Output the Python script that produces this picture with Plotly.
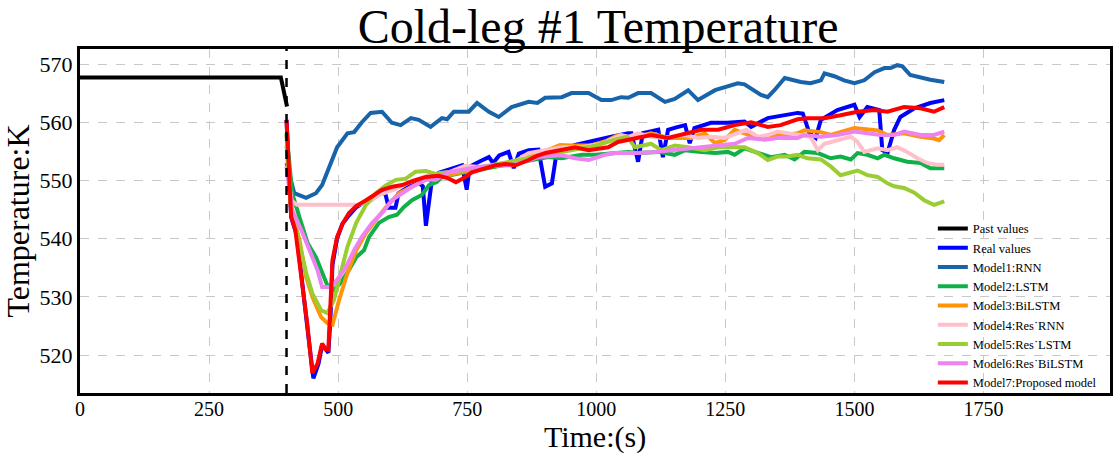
import plotly.graph_objects as go

# ---------------- data ----------------
t_past = [0, 100, 200, 300, 389, 401]
y_past = [567.7, 567.7, 567.7, 567.7, 567.7, 562.7]

t_real = [400, 409, 420, 430, 440, 452, 462, 469, 475, 481, 485, 489, 498, 508, 521, 535, 554, 570, 585, 592,
          598, 611, 617, 635, 656, 664, 670, 677, 682, 695, 720, 740, 749, 755, 775, 792, 800, 812, 830, 840,
          850, 869, 888, 901, 914, 923, 940, 959, 980, 998, 1029, 1062, 1068, 1081, 1090, 1105, 1120, 1129, 1139, 1155,
          1172, 1181, 1190, 1222, 1254, 1287, 1300, 1332, 1365, 1390, 1400, 1413, 1425, 1435, 1467, 1500, 1510, 1525, 1548, 1554,
          1564, 1577, 1589, 1616, 1647, 1674]
y_real = [560.4, 543.7, 540.5, 532.0, 525.0, 516.0, 518.5, 521.8, 521.0, 520.4, 526.0, 535.5, 540.0, 542.5, 544.0, 545.4, 546.4, 547.3, 548.0, 547.5,
          545.3, 545.3, 547.8, 548.8, 549.6, 549.0, 542.2, 547.0, 550.3, 551.3, 552.0, 552.6, 548.4, 552.4, 553.3, 554.0, 553.0, 554.3, 554.9, 552.1,
          554.6, 555.2, 555.3, 548.9, 549.5, 554.7, 555.5, 556.1, 556.5, 556.9, 557.5, 558.1, 558.1, 553.2, 558.1, 558.4, 558.7, 554.0, 558.7, 559.1,
          559.5, 556.4, 559.0, 559.9, 559.9, 560.1, 559.2, 560.7, 561.2, 561.6, 561.5, 558.1, 557.3, 560.4, 562.1, 563.0, 560.9, 562.6, 562.1, 555.2,
          554.7, 558.7, 560.9, 562.4, 563.3, 563.8]

t_m1 = [400, 415, 438, 457, 469, 483, 498, 518, 531, 546, 563, 585, 604, 621, 641, 656, 679, 701, 711, 724,
        753, 769, 792, 811, 836, 869, 886, 901, 933, 952, 985, 1010, 1029, 1048, 1062, 1081, 1106, 1133, 1152, 1178,
        1197, 1230, 1249, 1274, 1287, 1319, 1332, 1345, 1365, 1377, 1396, 1415, 1435, 1442, 1461, 1480, 1500, 1519, 1539, 1558,
        1570, 1583, 1593, 1608, 1628, 1647, 1674]
y_m1 = [553.0, 547.8, 547.0, 547.8, 549.2, 552.3, 555.7, 558.1, 558.3, 560.0, 561.6, 561.8, 559.9, 559.5, 560.7, 560.4, 559.2, 560.7, 560.5, 561.8,
        561.8, 563.3, 561.8, 560.9, 562.6, 563.5, 563.3, 564.2, 564.3, 565.0, 565.0, 563.8, 563.8, 564.3, 564.2, 565.0, 565.0, 563.5, 564.0, 565.5,
        563.8, 565.5, 566.0, 566.7, 566.5, 564.7, 564.3, 565.5, 567.6, 567.3, 566.9, 566.7, 567.2, 568.4, 567.9, 567.2, 566.7, 567.2, 568.6, 569.3,
        569.3, 569.8, 569.6, 568.1, 567.6, 567.3, 566.9]

t_m2 = [400, 411, 425, 441, 457, 469, 479, 492, 505, 521, 535, 550, 560, 579, 598, 614, 627, 643, 662, 676,
        691, 701, 720, 740, 770, 800, 836, 870, 907, 933, 972, 998, 1023, 1042, 1062, 1081, 1120, 1152, 1172, 1203,
        1230, 1255, 1268, 1287, 1313, 1338, 1365, 1384, 1403, 1429, 1454, 1473, 1493, 1506, 1525, 1545, 1558, 1577, 1602, 1628,
        1647, 1674]
y_m2 = [558.1, 547.8, 543.7, 539.2, 536.8, 534.1, 532.0, 531.2, 532.4, 534.6, 536.8, 538.0, 540.3, 542.7, 543.7, 544.1, 545.4, 546.6, 547.5, 549.2,
        549.7, 550.6, 551.0, 551.3, 551.8, 552.3, 552.9, 553.4, 554.0, 553.8, 554.4, 554.4, 554.6, 554.9, 554.9, 554.7, 554.9, 554.4, 555.2, 554.9,
        554.7, 554.9, 554.4, 555.5, 554.7, 554.0, 554.4, 553.6, 554.9, 554.7, 553.8, 554.1, 553.6, 554.7, 554.4, 553.8, 554.4, 553.8, 553.2, 553.0,
        552.1, 552.1]

t_m3 = [400, 409, 425, 438, 450, 467, 479, 489, 502, 518, 535, 554, 573, 593, 618, 643, 670, 695, 730, 766,
        800, 840, 880, 930, 950, 990, 1020, 1042, 1068, 1106, 1139, 1184, 1210, 1230, 1249, 1268, 1287, 1313, 1338, 1365,
        1390, 1403, 1435, 1454, 1500, 1545, 1564, 1596, 1628, 1654, 1664, 1674]
y_m3 = [557.8, 544.9, 539.8, 533.4, 530.0, 526.5, 525.5, 525.2, 529.5, 534.1, 538.0, 541.0, 543.2, 545.4, 547.8, 548.9, 550.1, 550.6, 551.2, 551.8,
        552.5, 553.2, 554.3, 556.1, 556.0, 556.0, 556.8, 557.8, 557.3, 558.1, 557.3, 557.3, 558.1, 556.4, 557.0, 558.7, 558.1, 557.3, 557.8, 557.8,
        558.1, 558.6, 558.3, 557.8, 559.0, 558.6, 557.8, 558.1, 557.5, 557.2, 556.9, 557.8]

t_m4 = [400, 410, 420, 460, 500, 540, 560, 580, 610, 640, 676, 714, 746, 772, 811, 843, 869, 901, 933, 972,
        1010, 1048, 1062, 1081, 1106, 1126, 1146, 1172, 1197, 1222, 1249, 1274, 1291, 1313, 1332, 1351, 1377, 1396, 1415, 1429,
        1442, 1467, 1493, 1506, 1519, 1545, 1564, 1583, 1602, 1622, 1641, 1660, 1674]
y_m4 = [552.5, 546.5, 545.8, 545.8, 545.8, 545.8, 546.3, 547.5, 548.5, 549.8, 550.9, 551.4, 552.5, 552.3, 552.8, 553.3, 554.7, 555.2, 555.7, 555.7,
        556.3, 557.8, 557.5, 558.1, 557.5, 557.3, 557.5, 557.8, 557.3, 557.5, 557.3, 558.1, 558.7, 557.5, 557.8, 558.4, 558.1, 557.8, 557.5, 555.2,
        556.3, 556.9, 557.5, 556.6, 554.9, 555.5, 555.2, 555.7, 554.9, 553.8, 553.0, 552.7, 552.7]

t_m5 = [400, 409, 425, 438, 450, 467, 479, 492, 505, 518, 535, 554, 573, 593, 612, 631, 650, 670, 689, 701,
        730, 760, 800, 840, 880, 920, 960, 1000, 1036, 1060, 1075, 1106, 1126, 1152, 1178, 1210, 1236, 1262, 1287, 1313,
        1332, 1351, 1371, 1390, 1409, 1435, 1454, 1473, 1493, 1506, 1525, 1545, 1564, 1577, 1596, 1616, 1635, 1654, 1674]
y_m5 = [556.0, 545.0, 539.2, 534.1, 530.6, 527.7, 527.2, 529.5, 534.1, 538.6, 542.7, 545.8, 547.8, 549.2, 550.1, 550.3, 551.5, 551.6, 551.1, 551.3,
        551.5, 552.0, 552.7, 553.3, 554.0, 554.6, 555.2, 556.0, 557.0, 557.5, 555.7, 556.3, 555.2, 556.0, 555.7, 555.2, 555.7, 555.7, 555.7, 554.7,
        553.5, 554.1, 554.1, 554.4, 553.8, 553.6, 552.4, 550.9, 551.4, 551.7, 550.9, 550.6, 549.5, 549.0, 548.7, 547.9, 546.6, 545.8, 546.4]

t_m6 = [400, 411, 431, 447, 460, 469, 486, 498, 515, 531, 546, 566, 585, 604, 624, 643, 670, 689, 714, 745,
        772, 805, 836, 860, 888, 933, 959, 985, 1017, 1036, 1062, 1081, 1113, 1146, 1178, 1210, 1236, 1268, 1294, 1326,
        1351, 1390, 1403, 1435, 1467, 1500, 1525, 1551, 1577, 1596, 1628, 1654, 1674]
y_m6 = [552.3, 544.9, 541.0, 537.5, 534.6, 531.7, 531.7, 532.9, 535.1, 538.0, 540.3, 542.7, 544.4, 546.6, 547.8, 548.9, 550.1, 550.1, 551.4, 551.8,
        552.3, 552.5, 552.6, 553.2, 554.0, 554.3, 553.8, 553.5, 554.4, 554.7, 554.7, 554.7, 554.9, 555.2, 555.5, 555.7, 556.0, 556.3, 557.3, 557.0,
        557.3, 557.3, 557.8, 557.5, 557.8, 558.4, 558.1, 557.8, 557.8, 558.4, 557.8, 557.8, 558.4]

t_m7 = [400, 409, 417, 430, 440, 450, 460, 469, 475, 481, 489, 498, 510, 521, 535, 554, 570, 585, 605, 624,
        645, 670, 695, 712, 728, 745, 759, 780, 805, 825, 844, 869, 885, 902, 933, 959, 985, 1005, 1023, 1042,
        1062, 1081, 1106, 1139, 1172, 1203, 1236, 1268, 1300, 1332, 1357, 1390, 1409, 1442, 1473, 1506, 1539, 1564, 1596, 1628,
        1654, 1674]
y_m7 = [560.4, 543.8, 541.5, 533.0, 525.5, 516.9, 518.5, 522.0, 521.0, 520.9, 536.3, 540.3, 542.8, 544.4, 545.6, 546.6, 547.6, 548.4, 548.9, 549.2,
        549.9, 550.6, 550.8, 550.4, 549.7, 550.5, 551.4, 552.0, 552.6, 552.8, 552.6, 553.5, 554.2, 554.7, 555.2, 555.7, 555.2, 555.5, 555.7, 556.6,
        557.0, 557.3, 557.8, 557.3, 558.1, 558.7, 558.7, 559.5, 560.0, 559.2, 559.5, 560.5, 560.7, 560.7, 561.2, 561.8, 562.1, 561.8, 562.6, 562.4,
        561.8, 562.6]

forecast_start = 400
x_ticks = [0, 250, 500, 750, 1000, 1250, 1500, 1750]
y_ticks = [520, 530, 540, 550, 560, 570]

DOT = "\u02d9"
series = [
    ("Past values", t_past, y_past, "#000000"),
    ("Real values", t_real, y_real, "#0000FF"),
    ("Model1:RNN", t_m1, y_m1, "#1764AA"),
    ("Model2:LSTM", t_m2, y_m2, "#10B048"),
    ("Model3:BiLSTM", t_m3, y_m3, "#FF9408"),
    ("Model4:Res" + DOT + "RNN", t_m4, y_m4, "#FFC0CB"),
    ("Model5:Res" + DOT + "LSTM", t_m5, y_m5, "#9ACD32"),
    ("Model6:Res" + DOT + "BiLSTM", t_m6, y_m6, "#EE82EE"),
    ("Model7:Proposed model", t_m7, y_m7, "#FF0000"),
]

SERIF = "Liberation Serif, Times New Roman, serif"

fig = go.Figure()
for name, xs, ys, col in series:
    fig.add_trace(go.Scatter(x=xs, y=ys, mode="lines", name=name,
                             line=dict(color=col, width=4)))

fig.add_shape(type="line", xref="x", yref="paper", x0=forecast_start, x1=forecast_start,
              y0=0, y1=1, line=dict(color="black", width=2.5, dash="dash"), layer="above")

fig.update_layout(
    width=1117, height=456,
    margin=dict(l=80, r=4, t=49, b=63),
    paper_bgcolor="white", plot_bgcolor="white",
    font=dict(family=SERIF, color="black"),
    title=dict(text="Cold-leg #1 Temperature", x=0.5355, xanchor="center",
               y=0.943, yanchor="middle", font=dict(size=48, family=SERIF)),
    showlegend=True,
    legend=dict(x=0.828, xanchor="left", y=-0.014, yanchor="bottom",
                bgcolor="rgba(0,0,0,0)", borderwidth=0,
                font=dict(size=12.5, family=SERIF), itemwidth=30,
                tracegroupgap=0),
)
fig.update_xaxes(range=[0, 1995], tickvals=x_ticks, ticktext=[str(v) for v in x_ticks],
                 showgrid=True, gridcolor="#c8c8c8", griddash="dash", gridwidth=1,
                 showline=True, linecolor="black", linewidth=3, mirror=True,
                 ticks="", zeroline=False, tickfont=dict(size=20, family=SERIF),
                 ticklabelstandoff=-4,
                 title=dict(text="Time:(s)", font=dict(size=30, family=SERIF), standoff=6))
fig.update_yaxes(range=[513.47, 572.58], tickvals=y_ticks, ticktext=[str(v) for v in y_ticks],
                 showgrid=True, gridcolor="#c8c8c8", griddash="dash", gridwidth=1,
                 showline=True, linecolor="black", linewidth=3, mirror=True,
                 ticks="", zeroline=False, tickfont=dict(size=22, family=SERIF),
                 title=dict(text="Temperature:K", font=dict(size=32, family=SERIF), standoff=2))

fig.write_html("out.html")
